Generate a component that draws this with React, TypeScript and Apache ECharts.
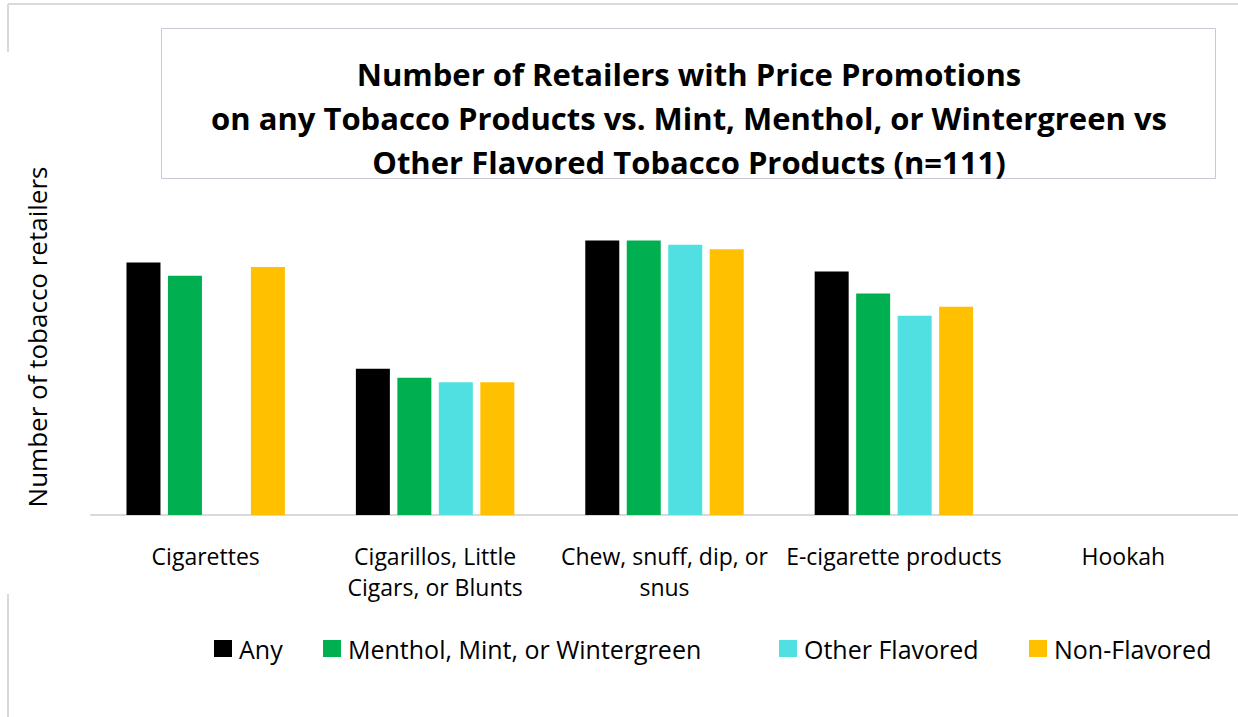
import React, { useEffect, useRef } from "react";
import * as echarts from "echarts";

// Product categories along the x axis
const categories = [
  "Cigarettes",
  "Cigarillos, Little\nCigars, or Blunts",
  "Chew, snuff, dip, or\nsnus",
  "E-cigarette products",
  "Hookah",
];

// Number of retailers (n=111) with price promotions, per product type
const anyValues = [57, 33, 62, 55, null];
const mentholValues = [54, 31, 62, 50, null];
const otherFlavoredValues = [null, 30, 61, 45, null];
const nonFlavoredValues = [56, 30, 60, 47, null];

const seriesNames = ["Any", "Menthol, Mint, or Wintergreen", "Other Flavored", "Non-Flavored"];
const seriesColors = ["#000000", "#00b050", "#50e0e2", "#ffc000"];
const seriesValues = [anyValues, mentholValues, otherFlavoredValues, nonFlavoredValues];
const legendLefts = [209, 318, 774, 1024];

const titleLines = [
  "Number of Retailers with Price Promotions",
  "on any Tobacco Products vs. Mint, Menthol, or Wintergreen vs",
  "Other Flavored Tobacco Products (n=111)",
];

const FONT = "'Open Sans', sans-serif";

export default function App() {
  const ref = useRef<HTMLDivElement>(null);

  useEffect(() => {
    if (!ref.current) return;
    const chart = echarts.init(ref.current, null, { renderer: "svg" });

    const option: any = {
      animation: false,
      backgroundColor: "#ffffff",
      textStyle: { fontFamily: FONT },
      grid: { left: 91, right: 0, top: 205, height: 310, containLabel: false },
      xAxis: {
        type: "category",
        data: categories,
        axisLine: { show: true, lineStyle: { color: "#d9d9d9", width: 2 } },
        axisTick: { show: false },
        axisLabel: {
          color: "#000000",
          fontSize: 23,
          lineHeight: 31,
          margin: 25,
          fontFamily: FONT,
          interval: 0,
        },
      },
      yAxis: {
        type: "value",
        min: 0,
        max: 70,
        show: false,
        splitLine: { show: false },
      },
      legend: seriesNames.map((name, i) => ({
        data: [name],
        left: legendLefts[i],
        top: 631,
        itemWidth: 18,
        itemHeight: 17,
        itemGap: 0,
        icon: "rect",
        selectedMode: false,
        textStyle: { color: "#000000", fontSize: 25, fontFamily: FONT, padding: [5, 0, 0, 2] },
      })),
      series: seriesNames.map((name, i) => ({
        name,
        type: "bar",
        data: seriesValues[i],
        barWidth: 34,
        barGap: "22%",
        itemStyle: { color: seriesColors[i] },
      })),
      graphic: [
        // Outer frame fragments
        {
          type: "line",
          shape: { x1: 8, y1: 4, x2: 1238, y2: 4 },
          style: { stroke: "#d9d9d9", lineWidth: 2 },
        },
        {
          type: "line",
          shape: { x1: 8, y1: 4, x2: 8, y2: 52 },
          style: { stroke: "#d9d9d9", lineWidth: 2 },
        },
        {
          type: "line",
          shape: { x1: 8, y1: 594, x2: 8, y2: 717 },
          style: { stroke: "#d9d9d9", lineWidth: 2 },
        },
        // Title box
        {
          type: "rect",
          shape: { x: 161.5, y: 28.5, width: 1054, height: 150 },
          style: { fill: "#ffffff", stroke: "#c6cad6", lineWidth: 1 },
        },
        ...titleLines.map((line, i) => ({
          type: "text",
          x: 689,
          y: 74 + i * 44,
          style: {
            text: line,
            fill: "#000000",
            font: `bold 31px ${FONT}`,
            textAlign: "center",
            textVerticalAlign: "middle",
          },
        })),
        // Y axis title
        {
          type: "text",
          x: 37,
          y: 337,
          rotation: Math.PI / 2,
          style: {
            text: "Number of tobacco retailers",
            fill: "#000000",
            font: `26px ${FONT}`,
            textAlign: "center",
            textVerticalAlign: "middle",
          },
        },
      ],
    };

    chart.setOption(option);
    return () => chart.dispose();
  }, []);

  return (
    <div
      ref={ref}
      style={{ position: "fixed", left: 0, top: 0, width: 1238, height: 717 }}
    />
  );
}
